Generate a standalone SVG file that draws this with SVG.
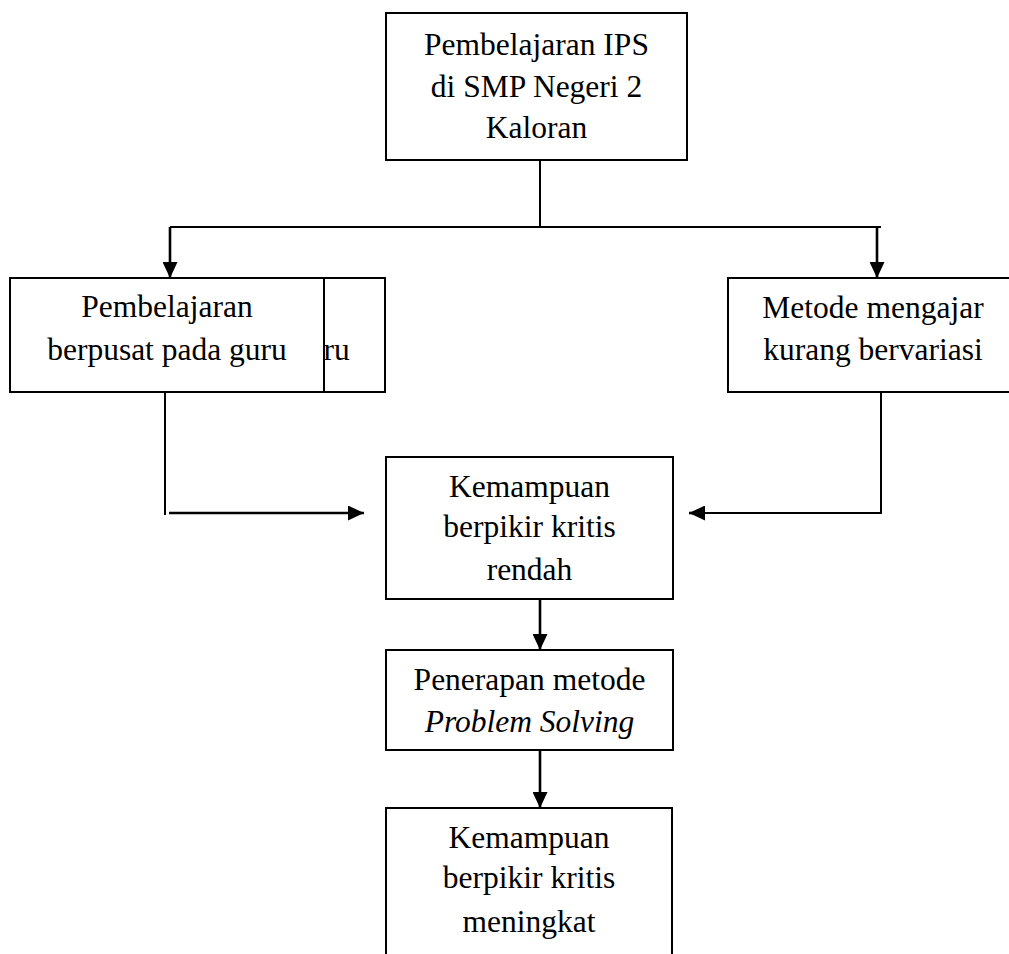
<svg xmlns="http://www.w3.org/2000/svg" width="1009" height="954" viewBox="0 0 1009 954">
<style>
.box{fill:#fff;stroke:#000;stroke-width:2}
.t{font-family:"Liberation Serif","Times New Roman",serif;font-size:31.5px;fill:#000;text-anchor:middle}
.c{fill:none;stroke:#000;stroke-width:2}
.a{fill:none;stroke:#000;stroke-width:2.6}
</style>
<defs>
<marker id="ah" markerWidth="16" markerHeight="15" refX="16" refY="7.5" orient="auto" markerUnits="userSpaceOnUse">
<path d="M0,0 L16,7.5 L0,15 Z" fill="#000"/>
</marker>
</defs>
<rect width="1009" height="954" fill="#fff"/>
<g id="connectors">
<line class="c" x1="540" y1="160" x2="540" y2="227"/>
<line class="c" x1="170" y1="227" x2="881" y2="227"/>
<line class="a" x1="170" y1="227" x2="170" y2="278" marker-end="url(#ah)"/>
<line class="a" x1="877" y1="227" x2="877" y2="278" marker-end="url(#ah)"/>
<line class="c" x1="165" y1="392" x2="165" y2="515"/>
<line class="a" x1="169" y1="513" x2="364" y2="513" marker-end="url(#ah)"/>
<polyline class="c" points="881,392 881,513 700,513"/>
<line class="a" x1="700" y1="513" x2="689" y2="513" marker-end="url(#ah)"/>
<line class="a" x1="540" y1="599" x2="540" y2="650" marker-end="url(#ah)"/>
<line class="a" x1="540" y1="750" x2="540" y2="808" marker-end="url(#ah)"/>
</g>
<g id="node-top">
<rect class="box" x="386" y="13" width="301" height="147"/>
<text class="t" x="536.5" y="55">Pembelajaran IPS</text>
<text class="t" x="536.5" y="97">di SMP Negeri 2</text>
<text class="t" x="536.5" y="138">Kaloran</text>
</g>
<g id="node-left-back">
<rect class="box" x="68" y="278" width="317" height="114"/>
<text class="t" x="323.5" y="360" style="text-anchor:start">ru</text>
</g>
<g id="node-left">
<rect class="box" x="10" y="278" width="314" height="114"/>
<text class="t" x="167" y="317">Pembelajaran</text>
<text class="t" x="167" y="360">berpusat pada guru</text>
</g>
<g id="node-right">
<rect class="box" x="728" y="278" width="290" height="114"/>
<text class="t" x="873" y="318">Metode mengajar</text>
<text class="t" x="873" y="360">kurang bervariasi</text>
</g>
<g id="node-middle">
<rect class="box" x="386" y="457" width="287" height="142"/>
<text class="t" x="529.5" y="497">Kemampuan</text>
<text class="t" x="529.5" y="537">berpikir kritis</text>
<text class="t" x="529.5" y="580">rendah</text>
</g>
<g id="node-method">
<rect class="box" x="386" y="650" width="287" height="100"/>
<text class="t" x="529.5" y="690">Penerapan metode</text>
<text class="t" x="529.5" y="732" font-style="italic">Problem Solving</text>
</g>
<g id="node-bottom">
<rect class="box" x="386" y="808" width="286" height="160"/>
<text class="t" x="529" y="848">Kemampuan</text>
<text class="t" x="529" y="888">berpikir kritis</text>
<text class="t" x="529" y="932">meningkat</text>
</g>
</svg>
